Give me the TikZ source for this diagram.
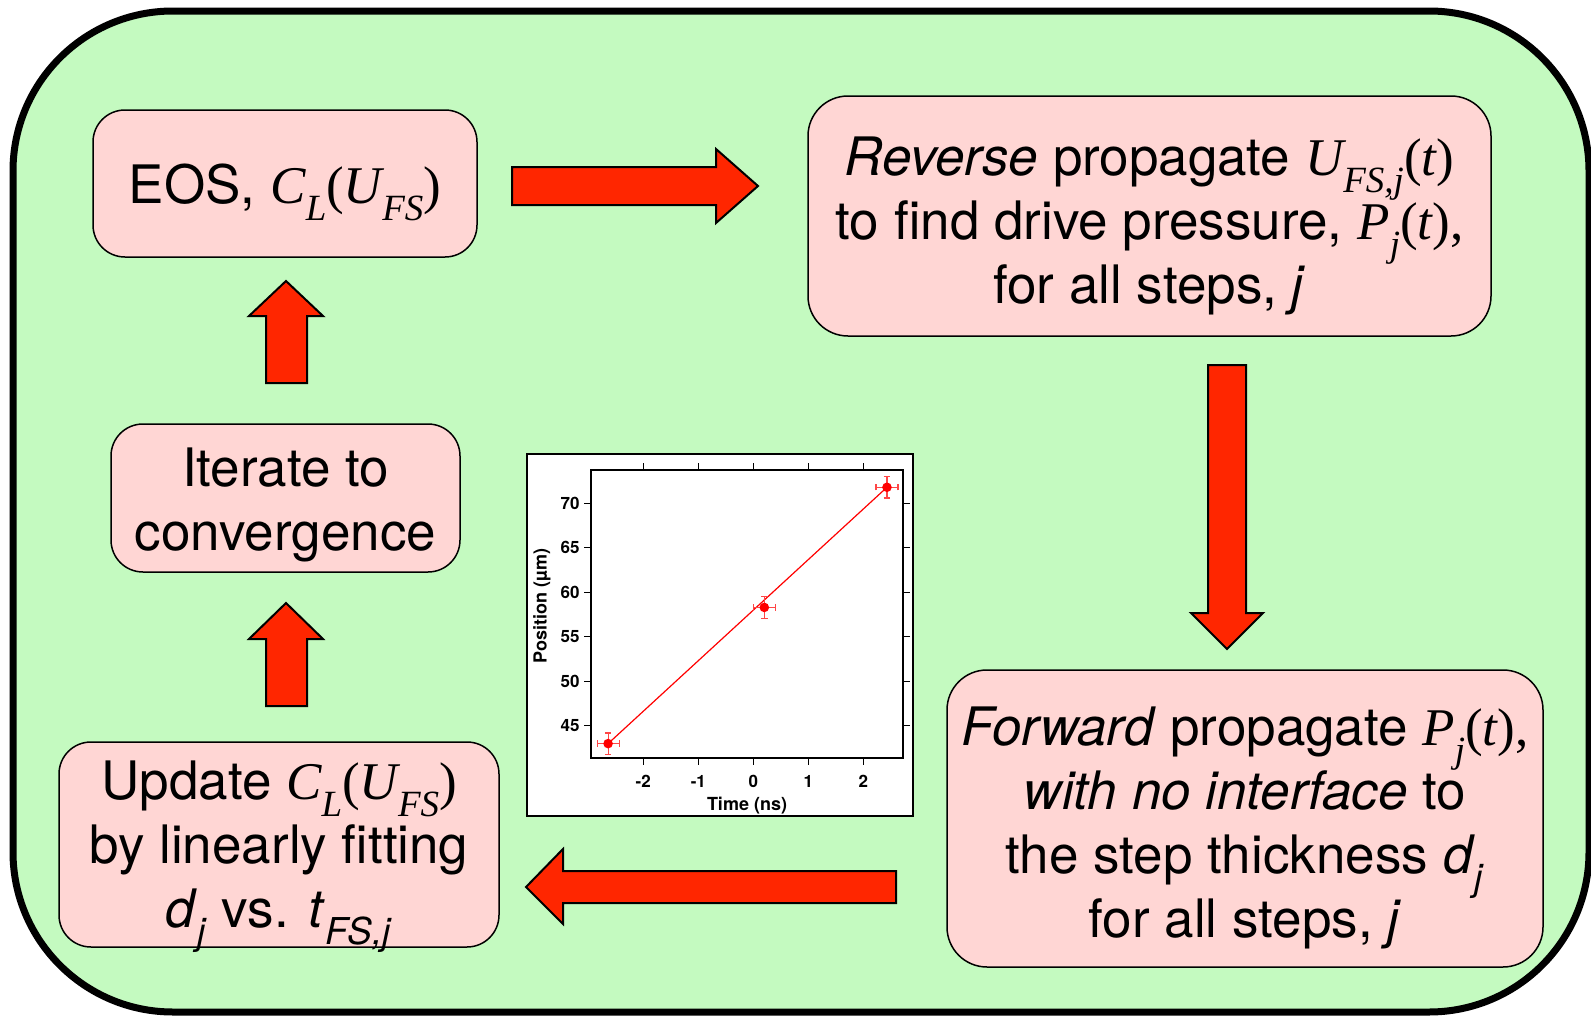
\documentclass[tikz,border=0pt]{standalone}
\usepackage{fontspec}
\setmainfont{TeX Gyre Heros}
\newfontfamily\tms{Liberation Serif}
\definecolor{bgreen}{RGB}{196,250,192}
\definecolor{bpink}{RGB}{255,214,212}
\definecolor{ared}{RGB}{255,38,0}
\definecolor{ebar}{RGB}{255,70,70}
\newcommand{\mi}[1]{{\tms\itshape #1}}
\newcommand{\mr}[1]{{\tms #1}}
\newcommand{\sbs}[1]{\raisebox{-0.32em}{\fontsize{18.5pt}{18.5pt}\selectfont #1}}
\tikzset{
  box/.style={draw=black, line width=0.75pt, fill=bpink, rounded corners=16pt, inner sep=0pt},
  boxtext/.style={inner sep=0pt, align=center, font=\fontsize{26.5pt}{32pt}\selectfont},
  blockarrow/.style={draw=black, line width=1pt, fill=ared, line join=miter},
  ticklab/.style={font=\fontsize{8.5pt}{9pt}\selectfont\bfseries, inner sep=0pt},
  axlab/.style={font=\fontsize{9pt}{10pt}\selectfont\bfseries, inner sep=0pt},
  axln/.style={line width=0.6pt, black},
}
\begin{document}
\begin{tikzpicture}[x=0.5pt, y=-0.5pt]
\useasboundingbox (0,0) rectangle (1591,1017);
\clip (0,0) rectangle (1591,1017);
\fill[white] (0,0) rectangle (1591,1017);
% outer frame
\draw[line width=3.5pt, fill=bgreen, rounded corners=80pt] (13,11) rectangle (1589,1012);

% boxes
\node[box, minimum width=192pt, minimum height=73.5pt] (eos) at (285,183.5) {};
\node[boxtext] (eost) at (285,192)
  {EOS, \mi{C}\sbs{\mi{L}}\mr{(}\mi{U}\sbs{\mi{FS}}\mr{)}};
\node[box, minimum width=341.5pt, minimum height=120pt, rounded corners=20pt] (rev) at (1149.5,216) {};
\node[boxtext] (revt) at (1149.5,226)
  {\textit{Reverse} propagate \mi{U}\sbs{\mi{FS,j}}\mr{(}\mi{t}\mr{)}\\
   to find drive pressure, \mi{P}\sbs{\mi{j}}\mr{(}\mi{t}\mr{),}\\
   for all steps, \textit{j}};
\node[box, minimum width=298pt, minimum height=148.5pt, rounded corners=20pt] (fwd) at (1245,818.5) {};
\node[boxtext] (fwdt) at (1245,828)
  {\textit{Forward} propagate \mi{P}\sbs{\mi{j}}\mr{(}\mi{t}\mr{),}\\
   \textit{with no interface} to\\
   the step thickness \textit{d}\sbs{\textit{j}}\\
   for all steps, \textit{j}};
\node[box, minimum width=220pt, minimum height=102.5pt] (upd) at (279,844.5) {};
\node[boxtext] (updt) at (279,857)
  {Update \mi{C}\sbs{\mi{L}}\mr{(}\mi{U}\sbs{\mi{FS}}\mr{)}\\
   by linearly fitting\\
   \textit{d}\sbs{\textit{j}} vs. \textit{t}\sbs{\textit{FS,j}}};
\node[box, minimum width=174.5pt, minimum height=74pt] (itr) at (285.5,498) {};
\node[boxtext] (itrt) at (285.5,505)
  {Iterate to\\convergence};

% block arrows
\draw[blockarrow] (512,167) -- (716,167) -- (716,149) -- (758,186) -- (716,223) -- (716,205) -- (512,205) -- cycle;
\draw[blockarrow] (1208,365) -- (1246,365) -- (1246,613) -- (1263,613) -- (1227,649) -- (1191,613) -- (1208,613) -- cycle;
\draw[blockarrow] (896,871) -- (563,871) -- (563,849) -- (526,887) -- (563,924) -- (563,903) -- (896,903) -- cycle;
\draw[blockarrow] (266,383) -- (266,316) -- (249,316) -- (286,281) -- (323,316) -- (307,316) -- (307,383) -- cycle;
\draw[blockarrow] (266,706) -- (266,639) -- (249,639) -- (286,603) -- (323,639) -- (307,639) -- (307,706) -- cycle;

% plot
\node[draw=black, line width=1.2pt, fill=white, minimum width=193pt, minimum height=181pt, inner sep=0pt] (plot) at (720,635) {};
\draw[axln] (591,470) rectangle (903,758);
\foreach \yy/\lab in {725.8/45, 681.3/50, 636.8/55, 592.3/60, 547.8/65, 503.3/70}{
  \draw[axln] (591,\yy) -- (584,\yy);
  \draw[axln] (903,\yy) -- (910,\yy);
  \node[ticklab, anchor=east] (yl\lab) at (580,\yy) {\lab};
}
\foreach \xx/\lab/\nm in {643.3/-2/a, 698.3/-1/b, 753.3/0/c, 808.3/1/d, 863.3/2/e}{
  \draw[axln] (\xx,758) -- (\xx,765);
  \draw[axln] (\xx,470) -- (\xx,463);
  \node[ticklab, anchor=base] (xl\nm) at (\xx,787) {\lab};
}
\node[axlab, anchor=base] (xlab) at (747,810) {Time (ns)};
\node[axlab, rotate=90] (ylab) at (542,606) {Position (µm)};
\begin{scope}[shift={(753.3,1126.3)}, x=27.5pt, y=4.45pt]
  \draw[red, line width=0.6pt] (-2.64,43.0) -- (2.43,71.8);
  \foreach \tx/\py in {-2.64/43.0, 0.2/58.3, 2.43/71.8}{
    \draw[ebar, line width=0.6pt] ({\tx-0.2},\py) -- ({\tx+0.2},\py);
    \draw[ebar, line width=0.6pt] ({\tx-0.2},{\py-0.35}) -- ({\tx-0.2},{\py+0.35});
    \draw[ebar, line width=0.6pt] ({\tx+0.2},{\py-0.35}) -- ({\tx+0.2},{\py+0.35});
    \draw[ebar, line width=0.6pt] (\tx,{\py-1.2}) -- (\tx,{\py+1.2});
    \draw[ebar, line width=0.6pt] ({\tx-0.06},{\py-1.2}) -- ({\tx+0.06},{\py-1.2});
    \draw[ebar, line width=0.6pt] ({\tx-0.06},{\py+1.2}) -- ({\tx+0.06},{\py+1.2});
    \fill[red] (\tx,\py) circle[radius=2.4pt];
  }
\end{scope}
\end{tikzpicture}
\end{document}
